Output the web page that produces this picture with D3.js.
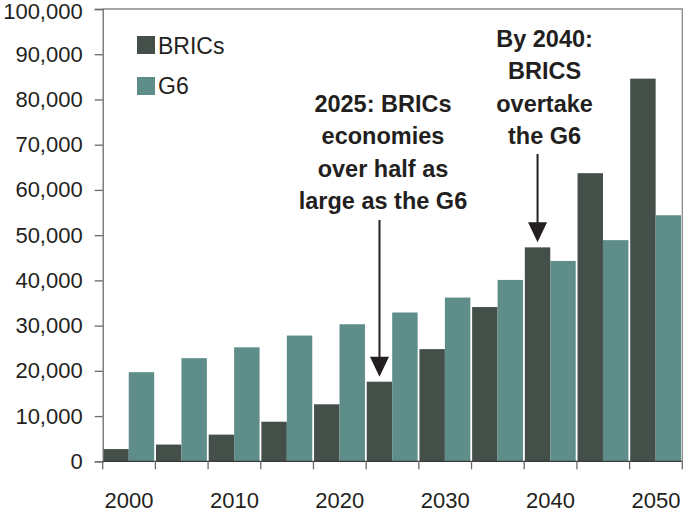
<!DOCTYPE html>
<html><head><meta charset="utf-8">
<script src="https://cdn.jsdelivr.net/npm/d3@7"></script>
<style>
body{margin:0;background:#fff;}
svg{display:block;font-family:"Liberation Sans",Arial,sans-serif;}
</style></head>
<body><svg id="c" width="684" height="513"></svg>
<script>
const years = [2000,2005,2010,2015,2020,2025,2030,2035,2040,2045,2050];
const brics = [2700,3700,5900,8750,12600,17600,24800,34100,47300,63700,84600];
const g6 = [19700,22800,25200,27800,30300,32900,36200,40100,44300,48900,54400];
const yTicks = [0,10000,20000,30000,40000,50000,60000,70000,80000,90000,100000];
const xLabels = [2000,2010,2020,2030,2040,2050];
const seriesNames = ["BRICs","G6"];
const colors = {"BRICs":"#434f48","G6":"#5f8e8a"};
const notes = [
  {year:2025, lines:["2025: BRICs","economies","over half as","large as the G6"], top:112, arrowFrom:220, target:"BRICs", shift:3.5},
  {year:2040, lines:["By 2040:","BRICS","overtake","the G6"], top:47, arrowFrom:154, target:"BRICs", shift:7}
];

const svg = d3.select("#c");
const L=102.7, R=682.3, T=9, B=461.3;
const x = d3.scaleBand().domain(years).range([L,R]);
const xs = d3.scaleBand().domain(seriesNames).range([0.6, x.bandwidth()-1.2]);
const y = d3.scaleLinear().domain([0,100000]).range([B,T]);

// frame
svg.append("path").attr("d",`M${L},${T}H${R}V${B}`).attr("fill","none").attr("stroke","#8a8a8a").attr("stroke-width",1.3);

// bars
const data = years.map((yr,i)=>({year:yr, BRICs:brics[i], G6:g6[i]}));
const g = svg.append("g");
data.forEach(d=>{
  seriesNames.forEach(s=>{
    g.append("rect").attr("x",x(d.year)+xs(s)).attr("width",xs.bandwidth())
      .attr("y",y(d[s])).attr("height",B-y(d[s])).attr("fill",colors[s]);
  });
});

// y axis
const ya = svg.append("g").attr("transform",`translate(${L},0)`)
  .call(d3.axisLeft(y).tickValues(yTicks).tickSize(8).tickPadding(12).tickFormat(d3.format(",")));
ya.select(".domain").attr("stroke","#6a6a6a").attr("stroke-width",1.3);
ya.selectAll(".tick line").attr("stroke","#6a6a6a").attr("stroke-width",1.3);
ya.selectAll("text").attr("font-size",22).attr("fill","#231f20").attr("font-family","Liberation Sans, Arial, sans-serif");
ya.selectAll(".tick").filter(d=>d===100000).select("text").attr("dy","0.45em");

// x axis
const bounds = years.map(yr=>x(yr)).concat([R]);
svg.append("line").attr("x1",L).attr("x2",R).attr("y1",B).attr("y2",B).attr("stroke","#3a3a3a").attr("stroke-width",1.3);
svg.append("g").selectAll("line").data(bounds).join("line")
  .attr("x1",d=>d).attr("x2",d=>d).attr("y1",B).attr("y2",B+8).attr("stroke","#6a6a6a").attr("stroke-width",1.3);
svg.append("g").selectAll("text").data(xLabels).join("text")
  .attr("x",d=>x(d)+x.bandwidth()/2).attr("y",508).attr("text-anchor","middle")
  .attr("font-size",22).attr("fill","#231f20").text(d=>d);

// legend
seriesNames.forEach((s,i)=>{
  svg.append("rect").attr("x",137).attr("y",36+i*41).attr("width",18).attr("height",18).attr("fill",colors[s]);
  svg.append("text").attr("x",158).attr("y",53.5+i*40.5).attr("font-size",23).attr("fill","#231f20").text(s);
});

// annotations
notes.forEach(n=>{
  const cx = x(n.year)+xs(n.target)+xs.bandwidth()/2;
  const t = svg.append("text").attr("text-anchor","middle").attr("font-size",23.5).attr("font-weight","bold").attr("fill","#231f20");
  n.lines.forEach((ln,i)=>t.append("tspan").attr("x",cx+n.shift).attr("y",n.top+i*32.3).text(ln));
  const tip = y(data.find(d=>d.year===n.year)[n.target]) - 5;
  svg.append("line").attr("x1",cx).attr("x2",cx).attr("y1",n.arrowFrom).attr("y2",tip-18).attr("stroke","#231f20").attr("stroke-width",2);
  svg.append("path").attr("d",`M${cx-9.5},${tip-20}L${cx+9.5},${tip-20}L${cx},${tip}Z`).attr("fill","#231f20");
});
</script></body></html>
